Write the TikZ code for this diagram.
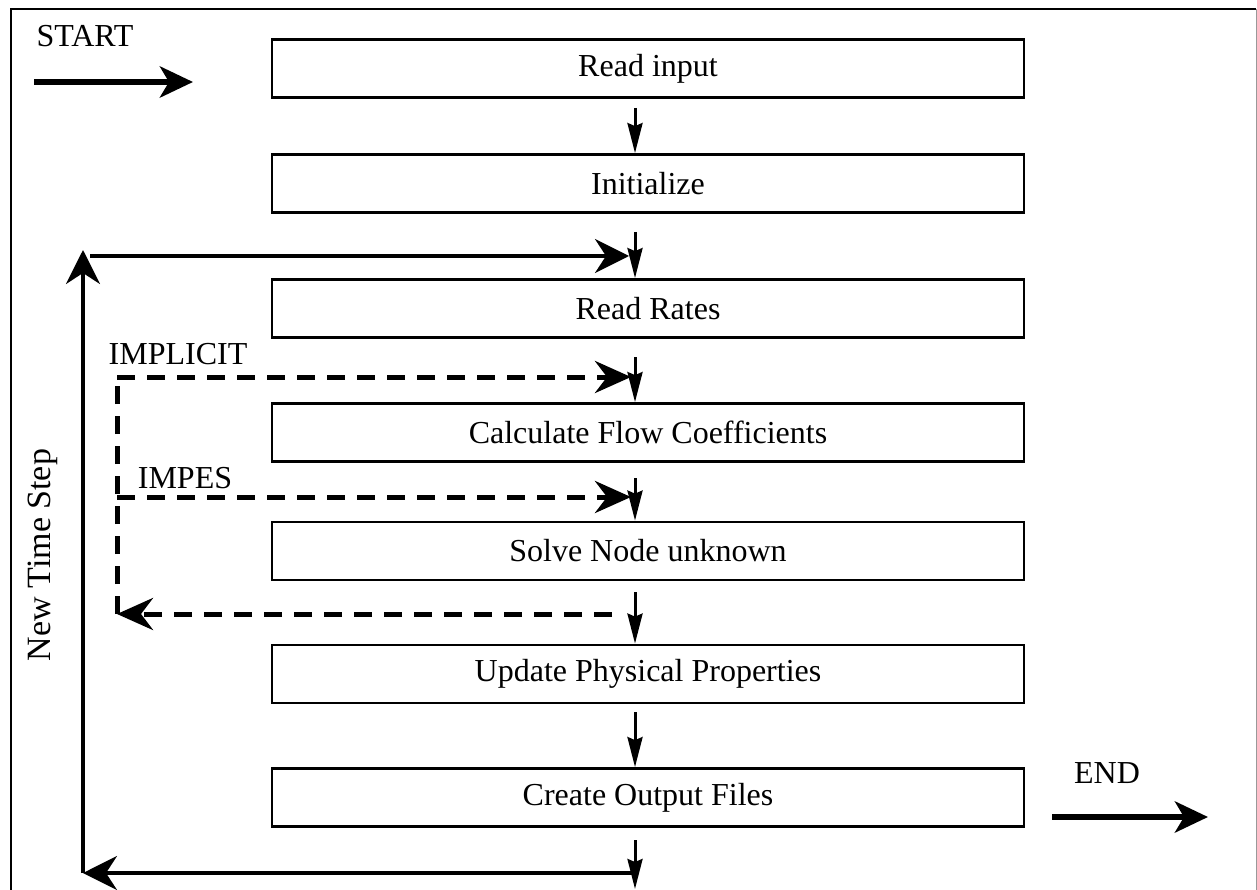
\documentclass[tikz,border=0pt]{standalone}
\usepackage{fontspec}
\setmainfont{Liberation Serif}
\usetikzlibrary{arrows.meta}
\begin{document}
\begin{tikzpicture}[x=1pt,y=-1pt,
  box/.style={draw,line width=2.8pt,minimum width=752pt,minimum height=58pt,inner sep=0pt,font=\fontsize{32}{38}\selectfont},
  lbl/.style={font=\fontsize{32}{38}\selectfont,inner sep=0pt},
  varrow/.style={line width=3pt,-{Stealth[length=30pt,width=15pt,inset=3pt]}},
  fb/.style={line width=3.5pt,-{Stealth[length=34pt,width=34pt,inset=11pt]}},
  dsh/.style={line width=5pt,dash pattern=on 18pt off 12pt},
  dsharrow/.style={dsh,-{Stealth[length=36pt,width=32pt,inset=12pt]}},
  big/.style={line width=6.5pt,-{Stealth[length=33pt,width=31pt,inset=9pt]}}]
\useasboundingbox (0,0) rectangle (1257,890);
% frame
\draw[line width=2pt] (11,892) -- (11,9) -- (1256,9);
\draw[line width=0.8pt,black!40] (1256,9) -- (1256,892);
% boxes
\node[box] (b1) at (648,68.5) {Read input};
\node[box] (b2) at (648,183.5) {Initialize};
\node[box] (b3) at (648,308.5) {Read Rates};
\node[box] (b4) at (648,432.5) {Calculate Flow Coefficients};
\node[box] (b5) at (648,551) {Solve Node unknown};
\node[box] (b6) at (648,674) {Update Physical Properties};
\node[box] (b7) at (648,797.5) {Create Output Files};
% column coordinates
\coordinate (s1) at (635,108);
\coordinate (s2) at (635,232);
\coordinate (s3) at (635,357);
\coordinate (s4) at (635,478);
\coordinate (s5) at (635,592);
\coordinate (s6) at (635,712);
\coordinate (s7) at (635,840);
\coordinate (e7) at (635,889);
\draw[varrow] (s1) -- (s1 |- b2.north);
\draw[varrow] (s2) -- (s2 |- b3.north);
\draw[varrow] (s3) -- (s3 |- b4.north);
\draw[varrow] (s4) -- (s4 |- b5.north);
\draw[varrow] (s5) -- (s5 |- b6.north);
\draw[varrow] (s6) -- (s6 |- b7.north);
\draw[varrow] (s7) -- (e7);
% feedback loop
\coordinate (lb) at (83,873);
\coordinate (lt) at (83,250);
\coordinate (tl) at (90,256);
\coordinate (tr) at (629,256);
\coordinate (br) at (634,873);
\draw[fb] (lb) -- (lt);
\draw[fb] (br) -- (lb);
\draw[fb] (tl) -- (tr);
% dashed loop
\coordinate (d1) at (117,377);
\coordinate (d1r) at (631,377);
\coordinate (d2) at (117,497);
\coordinate (d2r) at (631,497);
\coordinate (d3) at (117,614);
\coordinate (d3r) at (612,614);
\draw[dsh,line cap=butt] (d3) -- (d1);
\draw[dsharrow] (d1) -- (d1r);
\draw[dsharrow] (d2) -- (d2r);
\draw[dsharrow] (d3r) -- (d3);
% labels
\node[lbl] (impl) at (178,354) {IMPLICIT};
\node[lbl] (impes) at (185,478) {IMPES};
\node[lbl,rotate=90,font=\fontsize{34}{40}\selectfont] (nts) at (43,555) {New Time Step};
\node[lbl] (start) at (85,36) {START};
\node[lbl] (endl) at (1107,773) {END};
\coordinate (st1) at (34,82);
\coordinate (st2) at (193,82);
\coordinate (en1) at (1052,817);
\coordinate (en2) at (1208,817);
\draw[big] (st1) -- (st2);
\draw[big] (en1) -- (en2);
\end{tikzpicture}
\end{document}
